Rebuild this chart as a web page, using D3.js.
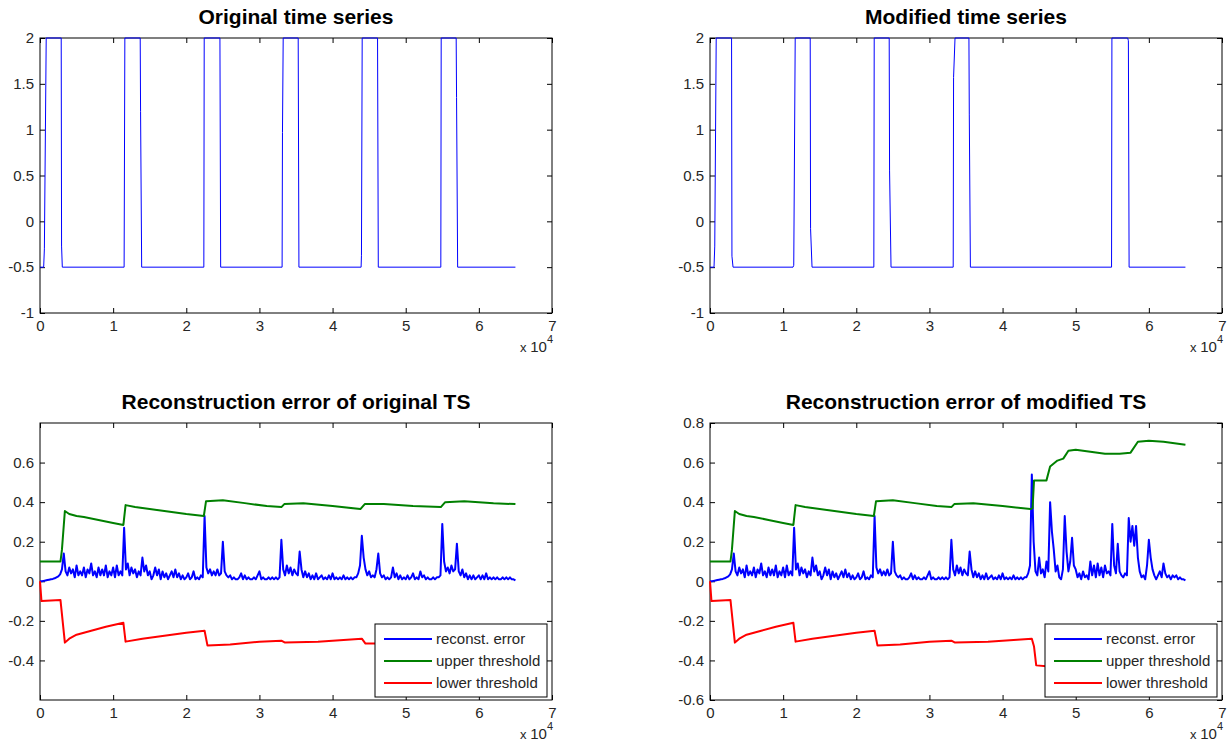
<!DOCTYPE html>
<html>
<head>
<meta charset="utf-8">
<script src="https://cdn.jsdelivr.net/npm/d3@7"></script>
<style>
  body { margin: 0; background: #fff; }
  svg { display: block; font-family: "Liberation Sans", Arial, sans-serif; }
  .tick text { fill: #262626; font-size: 15px; }
</style>
</head>
<body>
<div id="chart"></div>
<script>
// ---- data ----
// square-wave series, breakpoints [x, y]
var origTS = [[0,-0.5],[500,-0.5],[600,-0.3],[850,2],[2900,2],[2950,-0.27],[3050,-0.5],
  [11500,-0.5],[11600,2],[13700,2],[13750,1.2],[13900,-0.5],
  [22400,-0.5],[22450,2],[24600,2],[24700,-0.5],
  [33100,-0.5],[33150,0.97],[33250,2],[35300,2],[35400,-0.5],
  [43900,-0.5],[43950,-0.37],[44050,2],[46150,2],[46250,-0.5],
  [54800,-0.5],[54850,2],[56900,2],[56950,1.35],[57100,-0.5],[65000,-0.5]]

var modTS = [[0,-0.5],[550,-0.5],[650,-0.27],[850,2],[2950,2],[3000,-0.38],[3150,-0.5],
  [11350,-0.5],[11450,-0.48],[11650,2],[13700,2],[13750,-0.08],[13950,-0.5],
  [22400,-0.5],[22450,2],[24500,2],[24550,0.55],[24750,-0.5],
  [33250,-0.5],[33300,1.57],[33500,2],[35400,2],[35450,1.17],[35600,-0.5],
  [54900,-0.5],[54950,2],[57100,2],[57200,1.97],[57300,-0.5],[65000,-0.5]]

// reconstruction error, one value every errStep
var errStep = 250
// same for both series up to x = 42250
var errCommon = [
  0,0,0.002,0.004,0.006,0.008,0.01,0.012,0.015,0.02,
  0.025,0.035,0.06,0.14,0.05,0.03,0.07,0.04,0.06,0.02,
  0.08,0.03,0.05,0.03,0.07,0.02,0.06,0.04,0.09,0.03,
  0.05,0.02,0.07,0.03,0.06,0.03,0.08,0.02,0.05,0.03,
  0.07,0.02,0.08,0.03,0.05,0.03,0.27,0.06,0.09,0.03,
  0.07,0.04,0.06,0.02,0.05,0.03,0.12,0.05,0.08,0.03,
  0.05,0.01,0.03,0.07,0.03,0.06,0.01,0.05,0.02,0.04,
  0.01,0.03,0.05,0.02,0.06,0.02,0.04,0.01,0.03,0.01,
  0.02,0.04,0.01,0.02,0.05,0.01,0.02,0.01,0.03,0.02,
  0.33,0.07,0.04,0.06,0.03,0.05,0.03,0.06,0.03,0.04,
  0.2,0.05,0.03,0.02,0.03,0.01,0.02,0.01,0.01,0.02,
  0.04,0.01,0.03,0.01,0.02,0.01,0.01,0.02,0.01,0.03,
  0.05,0.01,0.02,0.01,0.01,0.02,0.01,0.02,0.01,0.02,
  0.01,0.02,0.21,0.06,0.03,0.08,0.04,0.07,0.03,0.06,
  0.04,0.03,0.15,0.06,0.02,0.05,0.02,0.04,0.01,0.03,
  0.01,0.04,0.01,0.02,0.03,0.01,0.02,0.01,0.03,0.01,
  0.04,0.01,0.02,0.01,0.02,0.01,0.03,0.01,0.02,0.01]

var errOrigTail = [
  0.02,0.01,0.02,0.02,0.04,0.08,0.23,0.12,0.06,0.03,
  0.05,0.02,0.03,0.02,0.06,0.14,0.04,0.02,0.03,0.01,
  0.02,0.01,0.02,0.07,0.02,0.04,0.01,0.03,0.01,0.02,
  0.01,0.03,0.01,0.02,0.04,0.01,0.02,0.01,0.05,0.02,
  0.03,0.01,0.02,0.01,0.01,0.02,0.01,0.02,0.02,0.03,
  0.29,0.1,0.05,0.07,0.04,0.08,0.05,0.06,0.19,0.05,
  0.03,0.06,0.02,0.04,0.01,0.03,0.01,0.03,0.01,0.02,
  0.03,0.01,0.03,0.01,0.04,0.01,0.02,0.01,0.02,0.01,
  0.02,0.01,0.01,0.02,0.01,0.02,0.01,0.02,0.01,0.01,
  0.005]

var errModTail = [
  0.02,0.01,0.02,0.02,0.04,0.08,0.54,0.2,0.05,0.03,
  0.12,0.04,0.06,0.02,0.1,0.05,0.4,0.25,0.16,0.05,
  0.08,0.02,0.01,0.06,0.33,0.15,0.05,0.1,0.22,0.08,
  0.06,0.02,0.04,0.01,0.05,0.02,0.03,0.01,0.1,0.03,
  0.08,0.02,0.09,0.03,0.07,0.02,0.08,0.04,0.05,0.03,
  0.29,0.08,0.04,0.19,0.05,0.03,0.02,0.04,0.03,0.32,
  0.2,0.28,0.18,0.28,0.12,0.05,0.02,0.03,0.01,0.08,
  0.21,0.12,0.06,0.03,0.01,0.03,0.05,0.02,0.09,0.04,
  0.02,0.03,0.01,0.03,0.02,0.03,0.01,0.02,0.01,0.01,
  0.005]

var upperOrig = [[0,0.1],[2800,0.1],[3000,0.16],[3400,0.355],[4000,0.34],[5000,0.33],[6000,0.325],
  [8000,0.31],[10000,0.295],[11400,0.285],[11700,0.385],[13000,0.375],[15000,0.365],[18000,0.35],
  [20000,0.34],[22400,0.33],[22700,0.405],[25000,0.41],[28000,0.395],[31000,0.38],[33000,0.375],
  [33400,0.39],[36000,0.395],[40000,0.38],[43800,0.365],[44400,0.39],[47000,0.39],[51000,0.38],
  [54800,0.375],[55400,0.4],[58000,0.405],[62000,0.395],[65000,0.39]]

var upperMod = [[0,0.1],[2800,0.1],[3000,0.16],[3400,0.355],[4000,0.34],[5000,0.33],[6000,0.325],
  [8000,0.31],[10000,0.295],[11400,0.285],[11700,0.385],[13000,0.375],[15000,0.365],[18000,0.35],
  [20000,0.34],[22400,0.33],[22700,0.405],[25000,0.41],[28000,0.395],[31000,0.38],[33000,0.375],
  [33400,0.39],[36000,0.395],[40000,0.38],[43800,0.365],[44100,0.37],[44300,0.51],[46000,0.51],
  [46500,0.58],[47500,0.61],[48300,0.62],[49000,0.66],[50000,0.665],[52000,0.655],[54000,0.645],
  [56000,0.645],[57500,0.65],[58500,0.705],[60000,0.71],[62000,0.705],[65000,0.69]]

var lowerOrig = [[0,0],[200,-0.1],[2800,-0.095],[3400,-0.31],[4000,-0.29],[5000,-0.27],[7000,-0.25],
  [9000,-0.23],[11400,-0.21],[11700,-0.305],[14000,-0.29],[17000,-0.275],[20000,-0.26],[22500,-0.25],
  [22900,-0.325],[26000,-0.32],[30000,-0.305],[33000,-0.3],[33500,-0.31],[38000,-0.305],[42000,-0.295],
  [44000,-0.29],[44500,-0.315],[46000,-0.315],[50000,-0.305],[55000,-0.295],[55500,-0.32],
  [60000,-0.31],[65000,-0.305]]

var lowerMod = [[0,0],[200,-0.1],[2800,-0.095],[3400,-0.31],[4000,-0.29],[5000,-0.27],[7000,-0.25],
  [9000,-0.23],[11400,-0.21],[11700,-0.305],[14000,-0.29],[17000,-0.275],[20000,-0.26],[22500,-0.25],
  [22900,-0.325],[26000,-0.32],[30000,-0.305],[33000,-0.3],[33500,-0.31],[38000,-0.305],[42000,-0.295],
  [44000,-0.29],[44300,-0.33],[44600,-0.425],[46000,-0.43],[52000,-0.425],[56000,-0.42],
  [58000,-0.45],[62000,-0.45],[65000,-0.445]]

var xTicks = [0,10000,20000,30000,40000,50000,60000,70000]
var xTickLabels = ["0","1","2","3","4","5","6","7"]
var tsTicks = [-1,-0.5,0,0.5,1,1.5,2]
var errTicksLeft = [-0.4,-0.2,0,0.2,0.4,0.6]
var errTicksRight = [-0.6,-0.4,-0.2,0,0.2,0.4,0.6,0.8]
var legendNames = ["reconst. error","upper threshold","lower threshold"]
var lineColors = ["#0000ff","#008000","#ff0000"]

// ---- layout ----
var W = 1232, H = 751
var svg = d3.select("#chart").append("svg").attr("width", W).attr("height", H)

function panel(opt) {
    var g = svg.append("g")
    var x = d3.scaleLinear().domain([0, 70000]).range([opt.x0, opt.x1])
    var y = d3.scaleLinear().domain(opt.ydom).range([opt.y1, opt.y0])

    // ticks inside the box, labels outside (matlab style)
    g.append("g").attr("transform", "translate(0," + opt.y1 + ")")
        .call(d3.axisBottom(x).tickValues(xTicks).tickSize(-5).tickPadding(7)
            .tickFormat(function(d, i) { return xTickLabels[i] }))
    g.append("g").attr("transform", "translate(0," + opt.y0 + ")")
        .call(d3.axisTop(x).tickValues(xTicks).tickSize(-5).tickFormat(""))
    g.append("g").attr("transform", "translate(" + opt.x0 + ",0)")
        .call(d3.axisLeft(y).tickValues(opt.yticks).tickSize(-5).tickPadding(6)
            .tickFormat(function(d) { return String(+d.toFixed(2)) }))
    g.append("g").attr("transform", "translate(" + opt.x1 + ",0)")
        .call(d3.axisRight(y).tickValues(opt.yticks).tickSize(-5).tickFormat(""))
    g.selectAll(".domain").remove()
    g.selectAll(".tick line").attr("stroke", "#000")

    g.append("rect")
        .attr("x", opt.x0).attr("y", opt.y0)
        .attr("width", opt.x1 - opt.x0).attr("height", opt.y1 - opt.y0)
        .attr("fill", "none").attr("stroke", "#000")

    g.append("text")
        .attr("x", (opt.x0 + opt.x1) / 2).attr("y", opt.y0 - 14)
        .attr("text-anchor", "middle").attr("font-size", 21).attr("font-weight", "bold")
        .attr("fill", "#000")
        .text(opt.title)

    var xl = g.append("text")
        .attr("x", opt.x1 + 1).attr("y", opt.y1 + 39)
        .attr("text-anchor", "end").attr("font-size", 15).attr("fill", "#262626")
    xl.append("tspan").attr("font-size", 13).text("x ")
    xl.append("tspan").text("10")
    xl.append("tspan").attr("dy", -9).attr("font-size", 11).text("4")

    var line = d3.line().x(function(d) { return x(d[0]) }).y(function(d) { return y(d[1]) })

    opt.series.forEach(function(s) {
        g.append("path")
            .datum(s.data)
            .attr("d", line)
            .attr("fill", "none")
            .attr("stroke", s.color)
            .attr("stroke-width", s.width)
            .attr("stroke-linejoin", "round")
    })

    if (opt.legend) {
        var lx = opt.x1 - 177, ly = opt.y1 - 76, lw = 172, lh = 73
        var lg = g.append("g")
        lg.append("rect").attr("x", lx).attr("y", ly).attr("width", lw).attr("height", lh)
            .attr("fill", "#fff").attr("stroke", "#000")
        legendNames.forEach(function(name, i) {
            var yy = ly + 15 + i * 22
            lg.append("line").attr("x1", lx + 9).attr("x2", lx + 57)
                .attr("y1", yy).attr("y2", yy)
                .attr("stroke", lineColors[i]).attr("stroke-width", 2)
            lg.append("text").attr("x", lx + 61).attr("y", yy + 5)
                .attr("font-size", 15).attr("fill", "#262626").text(name)
        })
    }
}

function errSeries(vals) {
    return vals.map(function(v, i) { return [i * errStep, v] })
}

panel({ x0: 40, x1: 552, y0: 38, y1: 313, ydom: [-1, 2], yticks: tsTicks,
    title: "Original time series",
    series: [{ data: origTS, color: "#0000ff", width: 1 }] })

panel({ x0: 710, x1: 1222, y0: 38, y1: 313, ydom: [-1, 2], yticks: tsTicks,
    title: "Modified time series",
    series: [{ data: modTS, color: "#0000ff", width: 1 }] })

panel({ x0: 40, x1: 552, y0: 423, y1: 700, ydom: [-0.6, 0.8], yticks: errTicksLeft,
    title: "Reconstruction error of original TS", legend: true,
    series: [{ data: errSeries(errCommon.concat(errOrigTail)), color: lineColors[0], width: 2 },
             { data: upperOrig, color: lineColors[1], width: 2 },
             { data: lowerOrig, color: lineColors[2], width: 2 }] })

panel({ x0: 710, x1: 1222, y0: 423, y1: 700, ydom: [-0.6, 0.8], yticks: errTicksRight,
    title: "Reconstruction error of modified TS", legend: true,
    series: [{ data: errSeries(errCommon.concat(errModTail)), color: lineColors[0], width: 2 },
             { data: upperMod, color: lineColors[1], width: 2 },
             { data: lowerMod, color: lineColors[2], width: 2 }] })
</script>
</body>
</html>
